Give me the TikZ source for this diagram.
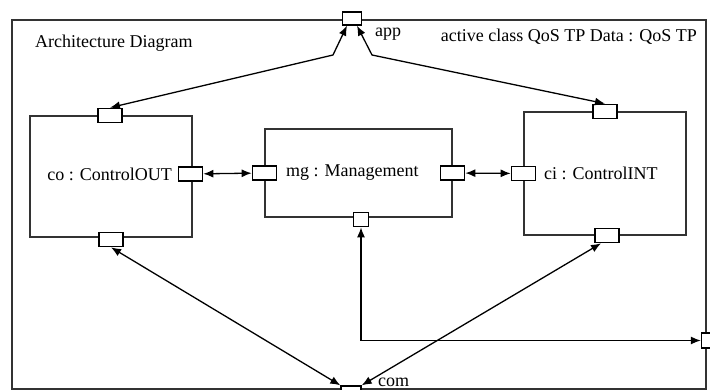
\documentclass[tikz,border=0pt]{standalone}
\usepackage{fontspec}
\setmainfont{Liberation Serif}
\usetikzlibrary{arrows.meta}
\usetikzlibrary{positioning}
\begin{document}
\begin{tikzpicture}[x=1pt,y=1pt]
    \tikzstyle{every node}=[font=\fontsize{18}{20}\selectfont,inner sep=2pt]
    \tikzstyle{part}=[draw=black!80,line width=1.4pt,inner sep=0pt]
    \tikzstyle{port}=[draw=black,line width=1.3pt,fill=white,inner sep=0pt,minimum width=24pt,minimum height=14pt]
    \tikzstyle{link}=[line width=1.3pt,{Latex[length=10pt,width=8pt]}-{Latex[length=10pt,width=8pt]}]

    \useasboundingbox (0,0) rectangle (710,390);
    \clip (0,0) rectangle (710,390);

    \node[part,minimum width=694pt,minimum height=369pt] (frame) at (359,185.5) {};

    \node[part,minimum width=162pt,minimum height=121pt] (co) at (111,213.5) {};
    \node[part,minimum width=187pt,minimum height=88pt] (mg) at (358.5,217) {};
    \node[part,minimum width=162pt,minimum height=123pt] (ci) at (605,216.5) {};

    \node[port,minimum width=19pt,minimum height=13pt] (app) at (352,371.5) {};
    \node[port] (coT) at ([xshift=-1pt]co.north) {};
    \node[port] (coB) at ([yshift=-2pt]co.south) {};
    \node[port] (coR) at ([xshift=-2pt,yshift=2.5pt]co.east) {};
    \node[port] (mgL) at (mg.west) {};
    \node[port] (mgR) at (mg.east) {};
    \node[port,minimum width=15pt] (mgB) at ([xshift=2.5pt,yshift=-2pt]mg.south) {};
    \node[port] (ciL) at (ci.west) {};
    \node[port] (ciT) at (ci.north) {};
    \node[port] (ciB) at ([xshift=2pt]ci.south) {};
    \node[port,minimum width=20pt] (com) at (351,-3) {};
    \node[port,minimum width=15pt,minimum height=15pt] (ext) at (709,49.5) {};

    \node[right] (title) at (33,347) {Architecture Diagram};
    \node[left] (cls) at (699,353) {active class QoS TP Data : QoS TP};
    \node[right] (applbl) at (373,356) {app};
    \node[right] (comlbl) at (376,8) {com};
    \node[left=4pt of coR] (colbl) {co : ControlOUT};
    \node[right=7pt of mgL] (mglbl) {mg : Management};
    \node[right=6pt of ciL] (cilbl) {ci : ControlINT};

    \coordinate (bendL) at (333,335);
    \coordinate (bendR) at (372,335);

    \draw[link] (coT.north) -- (bendL) -- ([xshift=-5pt]app.south);
    \draw[link] (ciT.north) -- (bendR) -- ([xshift=5pt]app.south);
    \draw[link] (coR) -- (mgL);
    \draw[link] (mgR) -- (ciL);
    \draw[link] (coB.south) -- (com.north west);
    \draw[link] ([xshift=-6pt]ciB.south) -- (com.north east);
    \draw[link] (mgB) |- (ext);

\end{tikzpicture}
\end{document}
